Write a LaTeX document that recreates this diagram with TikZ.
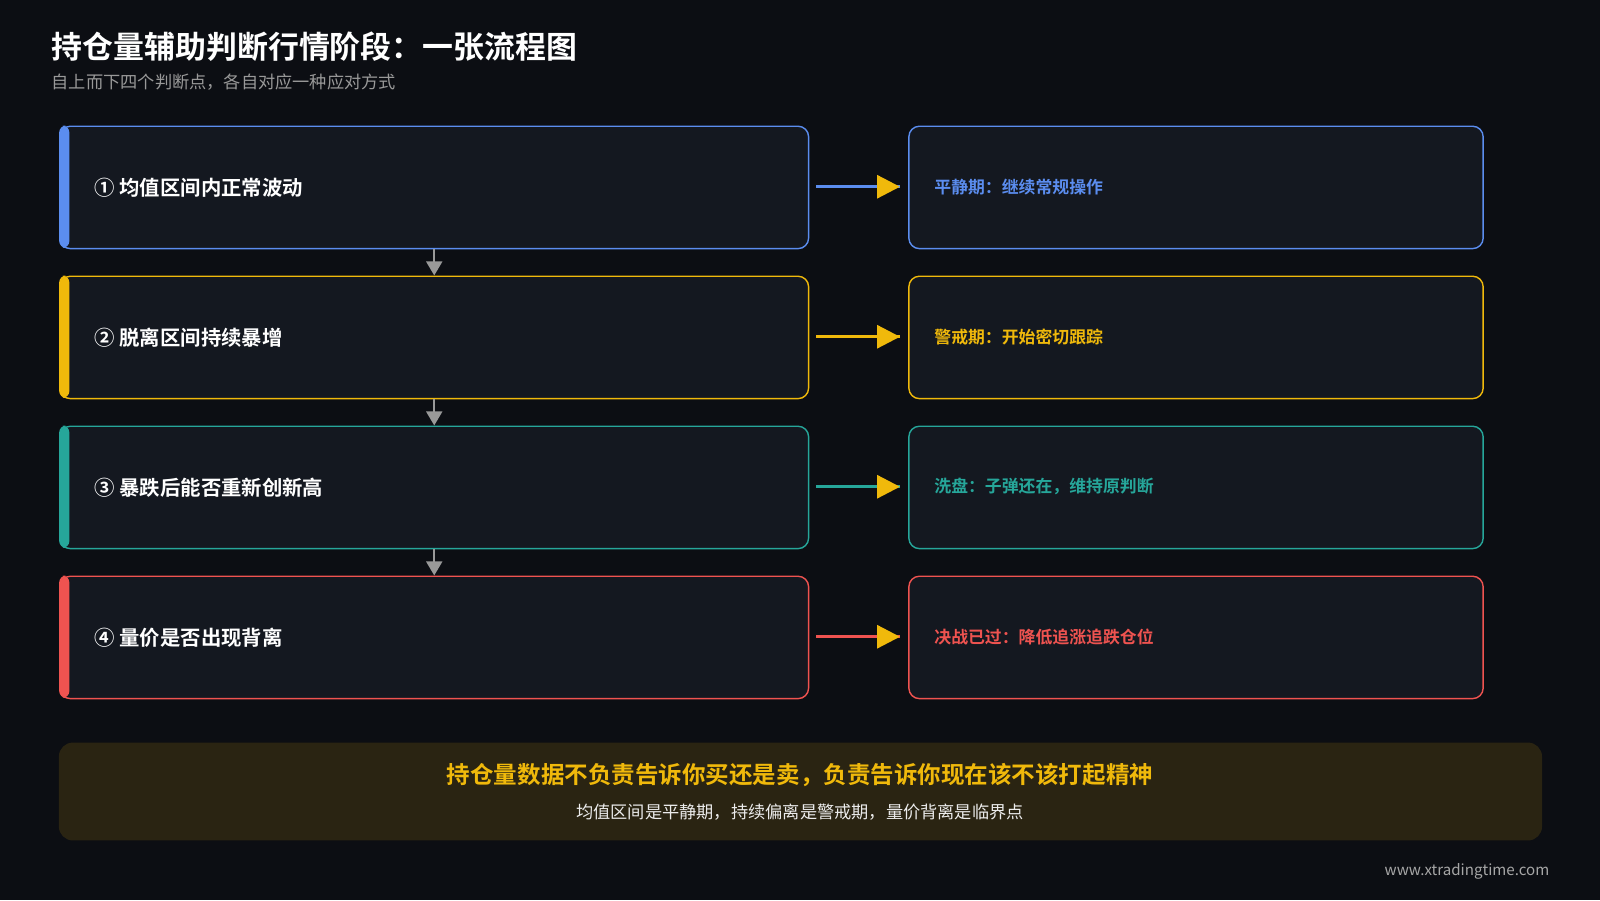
\documentclass[tikz,border=0pt]{standalone}
\usepackage{fontspec}
\setmainfont{Noto Sans CJK SC}
\newfontfamily\cjkb{Noto Sans CJK SC Bold}
\usetikzlibrary{arrows.meta,positioning}
\definecolor{bgc}{HTML}{0C0E13}
\definecolor{boxc}{HTML}{141820}
\definecolor{cblue}{HTML}{5B8DEF}
\definecolor{cyellow}{HTML}{F0B90B}
\definecolor{cteal}{HTML}{26A69A}
\definecolor{cred}{HTML}{EF5350}
\definecolor{bandc}{HTML}{2A2412}
\tikzset{
  stage/.style={draw=#1,line width=0.4pt,fill=boxc,rounded corners=3pt,
    minimum width=7.34cm*1.0204,minimum height=1.2cm*1.0204,anchor=north west},
  result/.style={draw=#1,line width=0.4pt,fill=boxc,rounded corners=3pt,
    minimum width=5.63cm*1.0204,minimum height=1.2cm*1.0204,anchor=north west},
  label/.style={text=white,inner sep=0pt,font=\cjkb\fontsize{5.8}{6}\selectfont,anchor=west},
  note/.style={text=#1,inner sep=0pt,font=\cjkb\fontsize{4.8}{5}\selectfont,anchor=west},
}
\begin{document}
\begin{tikzpicture}[x=0.010204cm,y=-0.010204cm]
\fill[bgc](0,0)rectangle(1568,882);
\node[anchor=west,inner sep=0pt,text=white,font=\cjkb\fontsize{8.8}{9}\selectfont](title)at(50,46){持仓量辅助判断行情阶段：一张流程图};
\node[anchor=west,inner sep=0pt,text=gray!80,font=\fontsize{4.9}{5}\selectfont](sub)at(50,80){自上而下四个判断点，各自对应一种应对方式};
\foreach \i/\c/\txt/\res/\y in {1/cblue/① 均值区间内正常波动/平静期：继续常规操作/123,
  2/cyellow/② 脱离区间持续暴增/警戒期：开始密切跟踪/270,
  3/cteal/③ 暴跌后能否重新创新高/洗盘：子弹还在，维持原判断/417,
  4/cred/④ 量价是否出现背离/决战已过：降低追涨追跌仓位/564}{
  \node[stage=\c](s\i)at(58,\y){};
  \fill[\c,rounded corners=2pt](58,\y)rectangle(68,\y+120);
  \node[label](t\i)at(92,\y+61){\txt};
  \node[result=\c](r\i)at(890,\y){};
  \node[note=\c](n\i)at(915,\y+60){\res};
  \coordinate(a\i)at(800,\y+60);
  \coordinate(b\i)at(882,\y+60);
  \draw[\c,line width=0.9pt](a\i)--(b\i);
  \draw[cyellow,-{Triangle[length=6.5pt,width=6.5pt]},line width=0.9pt]([xshift=-2pt]b\i)--(b\i);
}
\foreach \i/\j in {1/2,2/3,3/4}
  \draw[gray!80,line width=0.7pt,-{Triangle[length=4pt,width=4.5pt]}](s\i.south)--(s\j.north);
\node[fill=bandc,rounded corners=4pt,minimum width=14.54cm*1.0204,minimum height=0.96cm*1.0204,anchor=north west](band)at(57,727){};
\node[text=cyellow,inner sep=0pt,font=\cjkb\fontsize{6.7}{7}\selectfont](key)at(784,760){持仓量数据不负责告诉你买还是卖，负责告诉你现在该不该打起精神};
\node[text=white!85!gray,inner sep=0pt,font=\fontsize{4.9}{5}\selectfont](keysub)at(784,796){均值区间是平静期，持续偏离是警戒期，量价背离是临界点};
\node[anchor=east,inner sep=0pt,text=gray!70,font=\fontsize{4.3}{5}\selectfont](web)at(1519,854){www.xtradingtime.com};
\end{tikzpicture}
\end{document}
